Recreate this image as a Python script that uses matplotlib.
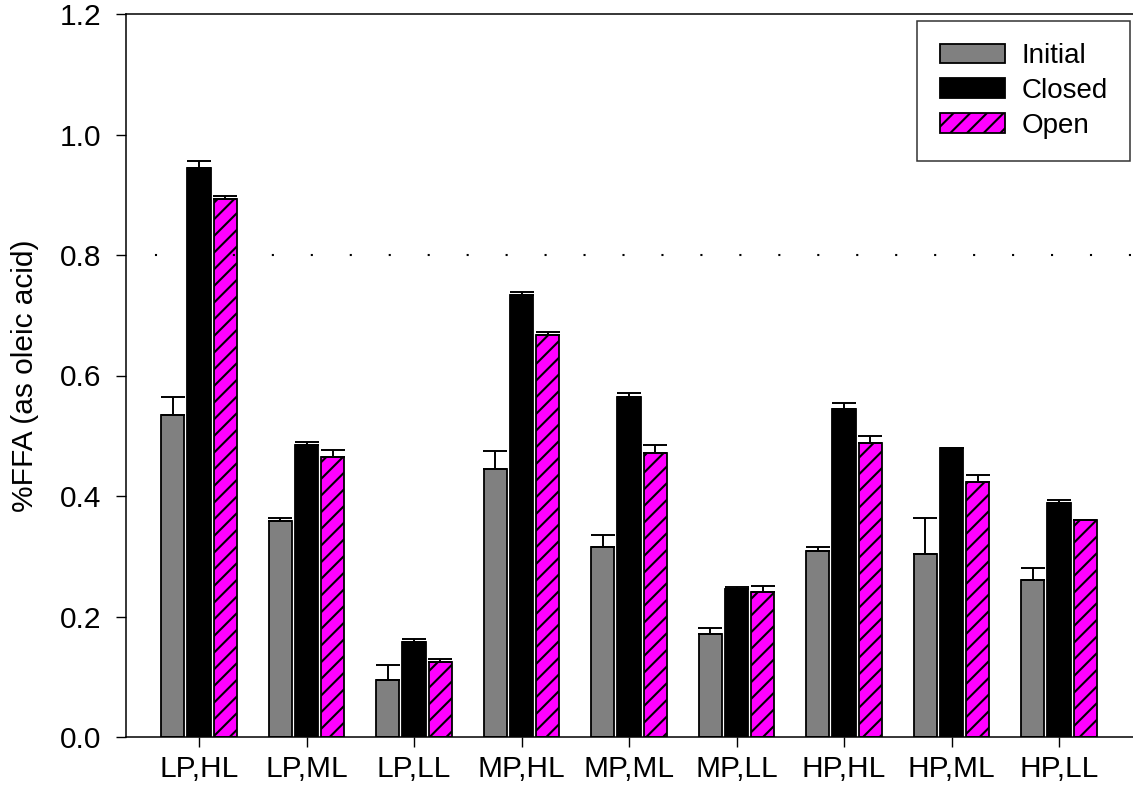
import matplotlib
matplotlib.use("Agg")
import matplotlib.pyplot as plt
import numpy as np

plt.rcParams['font.family'] = ['Liberation Sans', 'DejaVu Sans']
plt.rcParams['hatch.linewidth'] = 1.5

categories = ["LP,HL", "LP,ML", "LP,LL", "MP,HL", "MP,ML", "MP,LL", "HP,HL", "HP,ML", "HP,LL"]
series_names = ["Initial", "Closed", "Open"]
initial = [0.534, 0.358, 0.095, 0.445, 0.316, 0.171, 0.309, 0.304, 0.260]
initial_err = [0.030, 0.006, 0.025, 0.030, 0.019, 0.010, 0.006, 0.060, 0.020]
closed = [0.944, 0.485, 0.158, 0.733, 0.565, 0.245, 0.544, 0.480, 0.388]
closed_err = [0.012, 0.005, 0.004, 0.006, 0.006, 0.004, 0.010, 0.0, 0.006]
open_ = [0.893, 0.465, 0.124, 0.668, 0.472, 0.240, 0.488, 0.424, 0.360]
open_err = [0.005, 0.011, 0.005, 0.005, 0.012, 0.011, 0.011, 0.011, 0.0]
yticks = [0.0, 0.2, 0.4, 0.6, 0.8, 1.0, 1.2]
ref_level = 0.8

FS = 21.5
LFS = 20
W, H = 1133, 785
fig = plt.figure(figsize=(W / 100, H / 100), dpi=100)
ax = fig.add_axes([126 / W, 1 - 737 / H, (1140 - 126) / W, (737 - 14) / H])

x = np.arange(1, len(categories) + 1)
width = 0.214
step = 0.242
styles = [
    dict(facecolor='#808080', edgecolor='black', hatch=None),
    dict(facecolor='black', edgecolor='black', hatch=None),
    dict(facecolor='#ff00ff', edgecolor='black', hatch='//'),
]
data = [initial, closed, open_]
errs = [initial_err, closed_err, open_err]
for j, (vals, err, st, name) in enumerate(zip(data, errs, styles, series_names)):
    pos = x + (j - 1) * step
    ax.bar(pos, vals, width=width, facecolor=st['facecolor'], edgecolor=st['edgecolor'],
           hatch=st['hatch'], linewidth=1.3, label=name, zorder=2)
    ax.errorbar(pos, vals, yerr=[np.zeros(len(vals)), err], fmt='none', ecolor='black',
                elinewidth=1.4, capsize=8.3, capthick=1.4, zorder=3)

ax.axhline(ref_level, color='black', lw=1.5, linestyle=(4.8, (1, 17.7)), zorder=4)

ax.set_xlim(1 - (199 - 126) / 107.5, 1 + (1140 - 199) / 107.5)
ax.set_ylim(0, 1.2)
ax.set_xticks(x)
ax.set_xticklabels(categories, fontsize=FS)
ax.set_yticks(yticks)
ax.set_yticklabels([f"{v:.1f}" for v in yticks], fontsize=FS)
ax.tick_params(direction='out', length=7, width=1.0)
ax.tick_params(axis='x', pad=6)
ax.tick_params(axis='y', pad=11)
ax.set_ylabel("%FFA (as oleic acid)", fontsize=FS, labelpad=15)
for s in ax.spines.values():
    s.set_linewidth(1.1)

leg = ax.legend(loc='upper right', bbox_to_anchor=(1130 / W, 1 - 21 / H),
                bbox_transform=fig.transFigure, borderaxespad=0, fontsize=LFS,
                frameon=True, fancybox=False, handlelength=2.35, handleheight=0.72,
                handletextpad=0.6, labelspacing=0.32, borderpad=0.8)
leg.get_frame().set_edgecolor('black')
leg.get_frame().set_linewidth(1.1)

fig.savefig("out.png", dpi=100)
